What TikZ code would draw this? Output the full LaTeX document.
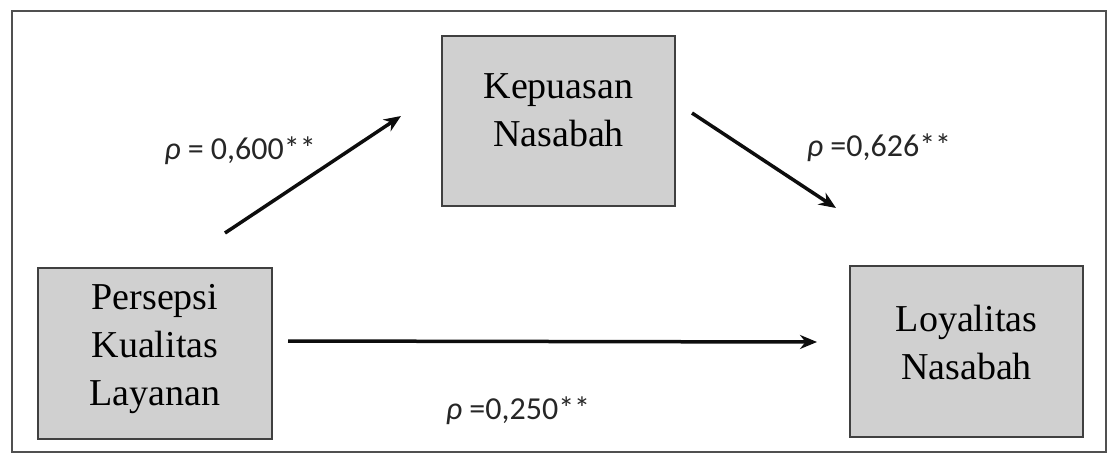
\documentclass[tikz,border=0pt]{standalone}
\usepackage{fontspec}
\setmainfont{Liberation Serif}
\newfontfamily\lblfont{Carlito}
\usetikzlibrary{arrows.meta}
\definecolor{boxfill}{HTML}{D0D0D0}
\definecolor{boxline}{HTML}{404040}
\definecolor{frameline}{HTML}{505050}
\tikzset{
  varbox/.style={draw=boxline, line width=2pt, fill=boxfill, minimum width=233pt, minimum height=170pt, inner sep=0pt},
  vartext/.style={align=center, font=\fontsize{38}{48}\selectfont, text=black, inner sep=0pt},
  path/.style={line width=3.5pt, -{Stealth[length=17pt,width=14pt]}, black!95},
  coef/.style={font=\lblfont\fontsize{32}{36}\selectfont, text=black!85, inner sep=0pt}
}
\begin{document}
\begin{tikzpicture}[x=1pt,y=-1pt]
\useasboundingbox (0,0) rectangle (1109,456);
\draw[frameline, line width=2.5pt] (12,11) rectangle (1106,452);
\node[varbox] (kep) at (558.5,120.5) {};
\node[varbox, minimum width=234pt, minimum height=171pt] (per) at (155,353.5) {};
\node[varbox, minimum height=171pt] (loy) at (966.5,351.5) {};
\node[vartext] (kepT) at (558.5,110) {Kepuasan\\Nasabah};
\node[vartext] (perT) at (155,349) {Persepsi\\Kualitas\\Layanan};
\node[vartext] (loyT) at (966.5,342) {Loyalitas\\Nasabah};
\coordinate (a1s) at (225,233);
\coordinate (a1e) at (401,116);
\coordinate (a2s) at (692,113);
\coordinate (a2e) at (836,208);
\coordinate (a3s) at (288,341);
\coordinate (a3e) at (817,342);
\draw[path] (a1s) -- (a1e);
\draw[path] (a2s) -- (a2e);
\draw[path] (a3s) -- (a3e);
\node[coef] (c1) at (240,151) {\itshape ρ\upshape{} = 0,600**};
\node[coef] (c2) at (879,148) {\itshape ρ\upshape{} =0,626**};
\node[coef] (c3) at (518,411) {\itshape ρ\upshape{} =0,250**};
\end{tikzpicture}
\end{document}
